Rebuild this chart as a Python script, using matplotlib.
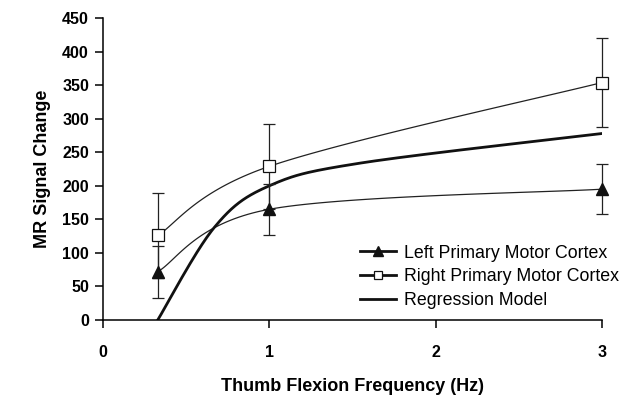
import matplotlib
matplotlib.use('Agg')
import matplotlib.pyplot as plt
import numpy as np

# data
freq = [0.33, 1.0, 3.0]
left_mean = [72, 165, 195]
left_err = [39, 38, 37]
right_mean = [126, 229, 354]
right_err = [64, 63, 67]
reg_x = [0.33, 0.67, 1.0, 1.55, 3.0]
reg_y = [0, 138, 200, 234, 278]


def smooth(xs, ys, n=40):
    # catmull-rom style smoothing like a spreadsheet "smoothed line"
    xs = np.asarray(xs, float)
    ys = np.asarray(ys, float)
    px = np.concatenate([[xs[0]], xs, [xs[-1]]])
    py = np.concatenate([[ys[0]], ys, [ys[-1]]])
    outx, outy = [], []
    t = np.linspace(0, 1, n)
    for i in range(1, len(px) - 2):
        p0x, p1x, p2x, p3x = px[i-1], px[i], px[i+1], px[i+2]
        p0y, p1y, p2y, p3y = py[i-1], py[i], py[i+1], py[i+2]
        c1x = p1x + (p2x - p0x) / 6
        c1y = p1y + (p2y - p0y) / 6
        c2x = p2x - (p3x - p1x) / 6
        c2y = p2y - (p3y - p1y) / 6
        bx = (1-t)**3*p1x + 3*(1-t)**2*t*c1x + 3*(1-t)*t**2*c2x + t**3*p2x
        by = (1-t)**3*p1y + 3*(1-t)**2*t*c1y + 3*(1-t)*t**2*c2y + t**3*p2y
        outx.append(bx)
        outy.append(by)
    return np.concatenate(outx), np.concatenate(outy)


plt.rcParams['font.family'] = ['Liberation Sans', 'DejaVu Sans']

fig = plt.figure(figsize=(6.31, 3.95), dpi=100)
ax = fig.add_axes([0.163, 0.19, 0.791, 0.764])

lx, ly = smooth(freq, left_mean)
rx, ry = smooth(freq, right_mean)
gx, gy = smooth(reg_x, reg_y)

ax.plot(lx, ly, color='#222222', lw=0.9)
ax.plot(rx, ry, color='#222222', lw=0.9)
ax.plot(gx, gy, color='#111111', lw=2.0)

ax.errorbar(freq, left_mean, yerr=left_err, fmt='none', ecolor='#222222',
            elinewidth=0.9, capsize=4, capthick=0.9, clip_on=False)
ax.errorbar(freq, right_mean, yerr=right_err, fmt='none', ecolor='#222222',
            elinewidth=0.9, capsize=4, capthick=0.9, clip_on=False)
ax.plot(freq, left_mean, linestyle='none', marker='^', ms=8, color='#111111',
        clip_on=False, zorder=5)
ax.plot(freq, right_mean, linestyle='none', marker='s', ms=8, mfc='white',
        mec='#111111', mew=0.9, clip_on=False, zorder=5)

# legend proxies
h1, = ax.plot([], [], color='#111111', lw=2.0, marker='^', ms=7)
h2, = ax.plot([], [], color='#111111', lw=2.0, marker='s', ms=6, mfc='white', mew=0.9)
h3, = ax.plot([], [], color='#111111', lw=2.0)
ax.legend([h1, h2, h3],
          ['Left Primary Motor Cortex', 'Right Primary Motor Cortex', 'Regression Model'],
          loc='lower right', bbox_to_anchor=(1.06, -0.005), frameon=False, fontsize=12.8,
          handlelength=2.0, handletextpad=0.5, labelspacing=0.38, borderaxespad=0.3)

ax.set_xlim(0, 3)
ax.set_ylim(0, 450)
ax.set_xticks([0, 1, 2, 3])
ax.set_yticks(np.arange(0, 451, 50))
ax.spines['top'].set_visible(False)
ax.spines['right'].set_visible(False)
ax.spines['left'].set_linewidth(1.1)
ax.spines['bottom'].set_linewidth(1.1)
ax.tick_params(direction='out', length=6, width=1.1, labelsize=11.5, pad=4)
ax.tick_params(axis='x', pad=12)
for lab in ax.get_xticklabels() + ax.get_yticklabels():
    lab.set_fontweight('bold')

ax.set_xlabel('Thumb Flexion Frequency (Hz)', fontsize=13, fontweight='bold', labelpad=13)
ax.set_ylabel('MR Signal Change', fontsize=13, fontweight='bold', labelpad=8)

fig.savefig('out.png', dpi=100)
